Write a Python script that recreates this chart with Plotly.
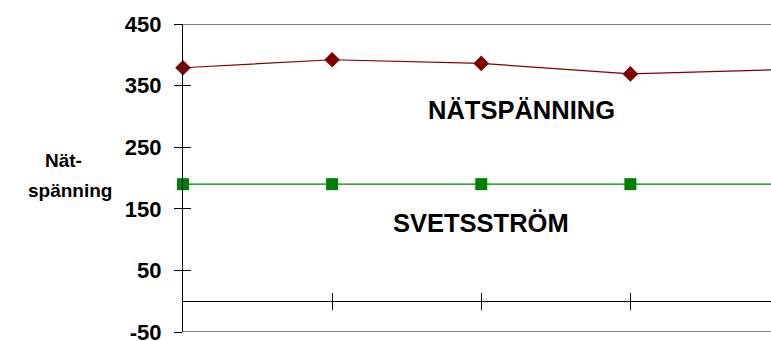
import plotly.graph_objects as go

# Measurement points along the horizontal axis
points = [0, 1, 2, 3, 4]
# Mains voltage readings
natspanning = [379, 392, 386, 369, 376]
# Welding current readings
svetsstrom = [190, 190, 190, 190, 190]

y_ticks = [-50, 50, 150, 250, 350, 450]
y_tick_labels = ["-50", "50", "150", "250", "350", "450"]
x_ticks = [1, 2, 3]

FONT = "Arial, Liberation Sans, sans-serif"

fig = go.Figure()

fig.add_trace(go.Scatter(
    x=points, y=natspanning, mode="lines+markers",
    line=dict(color="#800000", width=1.2),
    marker=dict(symbol="diamond", size=12, color="#800000"),
    cliponaxis=False, showlegend=False,
))
fig.add_trace(go.Scatter(
    x=points, y=svetsstrom, mode="lines+markers",
    line=dict(color="#008000", width=1.4),
    marker=dict(symbol="square", size=12, color="#008000"),
    cliponaxis=False, showlegend=False,
))

# Invisible helper trace so the secondary axes get drawn
fig.add_trace(go.Scatter(x=[points[0]], y=[y_ticks[0]], xaxis="x2", yaxis="y2",
                         mode="markers", marker=dict(opacity=0),
                         showlegend=False, hoverinfo="skip"))

x_range = [0, 3.943]
y_range = [y_ticks[0], y_ticks[-1]]
zero_pos = (0 - y_range[0]) / (y_range[1] - y_range[0])

fig.update_layout(
    width=771, height=341,
    margin=dict(l=183, r=0, t=24, b=9, autoexpand=False),
    paper_bgcolor="white", plot_bgcolor="white",
    font=dict(family=FONT, color="black"),
    xaxis=dict(
        range=x_range, showgrid=False, zeroline=False,
        anchor="free", position=zero_pos, automargin=False,
        showline=True, linecolor="black", linewidth=1,
        tickmode="array", tickvals=x_ticks, ticks="outside",
        ticklen=8, tickcolor="black", tickwidth=1,
        showticklabels=False,
    ),
    xaxis2=dict(
        range=x_range, overlaying="x", anchor="free", position=zero_pos,
        automargin=False,
        showgrid=False, zeroline=False, showline=False,
        tickmode="array", tickvals=x_ticks, ticks="inside",
        ticklen=8, tickcolor="black", tickwidth=1,
        showticklabels=False,
    ),
    yaxis=dict(
        range=y_range, showgrid=False, zeroline=False, automargin=False,
        showline=True, linecolor="black", linewidth=1.2,
        tickmode="array", tickvals=y_ticks, ticktext=y_tick_labels,
        ticks="outside", ticklen=8, tickcolor="black", tickwidth=1,
        tickfont=dict(family=FONT, size=22, color="black", weight="bold"),
        ticklabelstandoff=8, ticklabeloverflow="allow",
    ),
    yaxis2=dict(
        range=y_range, overlaying="y", anchor="x", automargin=False,
        showgrid=False, zeroline=False, showline=False,
        tickmode="array", tickvals=y_ticks, ticks="inside",
        ticklen=8, tickcolor="black", tickwidth=1,
        showticklabels=False,
    ),
    shapes=[
        dict(type="line", xref="paper", yref="y", x0=0, x1=1,
             y0=y_range[1], y1=y_range[1], line=dict(color="black", width=1.2)),
        dict(type="line", xref="paper", yref="y", x0=0, x1=1,
             y0=y_range[0], y1=y_range[0], line=dict(color="black", width=1.2)),
    ],
    annotations=[
        dict(text="<b>Nät-</b>", xref="paper", yref="paper",
             x=-0.2036, y=0.557, xanchor="center", yanchor="middle",
             showarrow=False, font=dict(family=FONT, size=19, color="black")),
        dict(text="<b>spänning</b>", xref="paper", yref="paper",
             x=-0.193, y=0.46, xanchor="center", yanchor="middle",
             showarrow=False, font=dict(family=FONT, size=19, color="black")),
        dict(text="<b>NÄTSPÄNNING</b>", xref="paper", yref="paper",
             x=0.575, y=0.721, xanchor="center", yanchor="middle",
             showarrow=False, font=dict(family=FONT, size=25.5, color="black")),
        dict(text="<b>SVETSSTRÖM</b>", xref="paper", yref="paper",
             x=0.506, y=0.354, xanchor="center", yanchor="middle",
             showarrow=False, font=dict(family=FONT, size=25.5, color="black")),
    ],
)

fig.write_html("out.html")
